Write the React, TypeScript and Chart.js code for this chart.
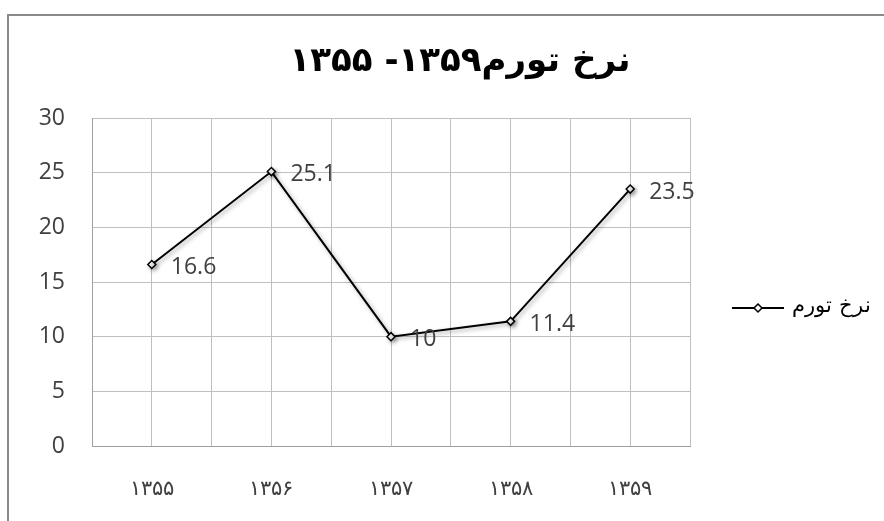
import React, { useEffect, useRef } from "react";
import { Chart, registerables } from "chart.js";

Chart.register(...registerables);

const titleText = "نرخ تورم۱۳۵۹- ۱۳۵۵";
const seriesName = "نرخ تورم";
const categories = ["۱۳۵۵", "۱۳۵۶", "۱۳۵۷", "۱۳۵۸", "۱۳۵۹"];
const inflation = [16.6, 25.1, 10, 11.4, 23.5];
const yMin = 0;
const yMax = 30;
const yStep = 5;

const W = 884;
const H = 521;

const shadowPlugin = {
  id: "lineShadow",
  beforeDatasetDraw(chart: any) {
    const ctx = chart.ctx;
    ctx.save();
    ctx.shadowColor = "rgba(0,0,0,0.35)";
    ctx.shadowBlur = 4;
    ctx.shadowOffsetX = 2;
    ctx.shadowOffsetY = 2;
  },
  afterDatasetDraw(chart: any) {
    chart.ctx.restore();
  },
};

const valueLabelPlugin = {
  id: "valueLabels",
  afterDatasetsDraw(chart: any) {
    const ctx = chart.ctx;
    const meta = chart.getDatasetMeta(0);
    ctx.save();
    ctx.font = "23px 'Open Sans'";
    ctx.fillStyle = "#404040";
    ctx.textAlign = "left";
    ctx.textBaseline = "middle";
    meta.data.forEach((el: any, i: number) => {
      ctx.fillText(String(inflation[i]), el.x + 19, el.y + 3);
    });
    ctx.restore();
  },
};

const titlePlugin = {
  id: "customTitle",
  afterDraw(chart: any) {
    const ctx = chart.ctx;
    ctx.save();
    ctx.font = "bold 34px 'DejaVu Sans'";
    ctx.fillStyle = "#000";
    ctx.textAlign = "center";
    ctx.textBaseline = "middle";
    ctx.fillText(titleText, chart.width / 2 + 18, 62);
    ctx.restore();
  },
};

const legendPlugin = {
  id: "customLegend",
  afterDraw(chart: any) {
    const ctx = chart.ctx;
    const a = chart.chartArea;
    const y = a.top + 190;
    const x0 = a.right + 42;
    ctx.save();
    ctx.strokeStyle = "#000";
    ctx.lineWidth = 2;
    ctx.beginPath();
    ctx.moveTo(x0, y);
    ctx.lineTo(x0 + 52, y);
    ctx.stroke();
    const cx = x0 + 26;
    ctx.beginPath();
    ctx.moveTo(cx, y - 4);
    ctx.lineTo(cx + 4, y);
    ctx.lineTo(cx, y + 4);
    ctx.lineTo(cx - 4, y);
    ctx.closePath();
    ctx.fillStyle = "#fff";
    ctx.fill();
    ctx.lineWidth = 1.5;
    ctx.stroke();
    ctx.font = "200 21px 'DejaVu Sans'";
    ctx.fillStyle = "#000";
    ctx.textAlign = "right";
    ctx.textBaseline = "middle";
    ctx.fillText(seriesName, a.right + 181, y - 1);
    ctx.restore();
  },
};

export default function App() {
  const ref = useRef<HTMLCanvasElement>(null);

  useEffect(() => {
    if (!ref.current) return;
    const chart = new Chart(ref.current, {
      type: "line",
      data: {
        datasets: [
          {
            label: seriesName,
            data: inflation.map((v, i) => ({ x: i, y: v })),
            borderColor: "#000",
            borderWidth: 2,
            pointStyle: "rectRot",
            pointRadius: 4,
            pointBorderWidth: 1.5,
            pointBackgroundColor: "#fff",
            pointBorderColor: "#000",
            tension: 0,
          },
        ],
      },
      options: {
        responsive: false,
        animation: false,
        layout: { padding: { left: 38, right: 194, top: 118, bottom: 0 } },
        plugins: {
          legend: { display: false },
          tooltip: { enabled: false },
          title: { display: false },
        },
        scales: {
          x: {
            type: "linear",
            min: -0.5,
            max: categories.length - 0.5,
            afterFit: (s: any) => {
              s.height = 75;
            },
            afterBuildTicks: (s: any) => {
              const t = [];
              for (let i = 0; i <= categories.length * 2; i++) t.push({ value: -0.5 + i * 0.5 });
              s.ticks = t;
            },
            ticks: {
              autoSkip: false,
              maxRotation: 0,
              padding: 31,
              color: "#404040",
              font: { family: "'DejaVu Sans'", size: 21, weight: "200" },
              callback: (v: any) => {
                const n = Number(v);
                const r = Math.round(n);
                return Math.abs(n - r) < 1e-6 && categories[r] !== undefined ? categories[r] : "";
              },
            },
            grid: { color: "#bfbfbf", lineWidth: 1, drawTicks: false },
            border: { color: "#a0a0a0", width: 1 },
          },
          y: {
            min: yMin,
            max: yMax,
            afterFit: (s: any) => {
              s.width = 54;
            },
            ticks: {
              stepSize: yStep,
              padding: 27,
              color: "#404040",
              font: { family: "'Open Sans'", size: 23 },
            },
            grid: { color: "#bfbfbf", lineWidth: 1, drawTicks: false },
            border: { color: "#a0a0a0", width: 1 },
          },
        },
      },
      plugins: [shadowPlugin, valueLabelPlugin, titlePlugin, legendPlugin],
    });
    return () => chart.destroy();
  }, []);

  return (
    <div>
      <div
        style={{
          position: "fixed",
          left: 7,
          top: 14,
          width: 1200,
          height: 1200,
          borderLeft: "2px solid #8a8a8a",
          borderTop: "2px solid #8a8a8a",
          boxSizing: "border-box",
        }}
      />
      <canvas
        ref={ref}
        width={W}
        height={H}
        style={{ position: "fixed", left: 0, top: 0, width: W, height: H }}
      />
    </div>
  );
}
